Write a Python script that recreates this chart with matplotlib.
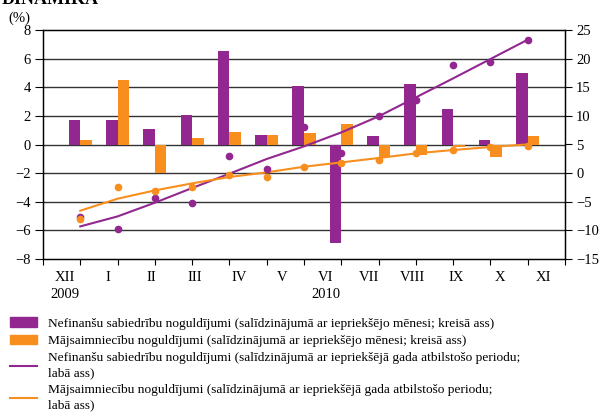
import numpy as np
import matplotlib.pyplot as plt
from matplotlib.patches import Patch
from matplotlib.lines import Line2D

plt.rcParams['font.family'] = ['Liberation Serif', 'DejaVu Serif']

# dati
menesi = ['XII', 'I', 'II', 'III', 'IV', 'V', 'VI', 'VII', 'VIII', 'IX', 'X', 'XI']
gadi = {0: '2009', 6: '2010'}

# salidzinajuma ar ieprieksejo menesi (kreisa ass)
nefin_men = [1.72, 1.72, 1.1, 2.07, 6.54, 0.68, 4.1, -6.9, 0.61, 4.24, 2.49, 0.33, 5.0]
majs_men = [0.33, 4.51, -2.02, 0.47, 0.89, 0.68, 0.82, 1.44, -0.84, -0.72, -0.16, -0.9, 0.61]

# salidzinajuma ar ieprieksejo gadu (laba ass), punkti
nefin_gad = [-7.7, -9.7, -4.35, -5.2, 2.97, 0.64, 8.1, 3.6, 9.9, 12.8, 18.85, 19.4, 23.3]
majs_gad = [-8.1, -2.4, -3.1, -2.4, -0.4, -0.63, 1.1, 1.85, 2.27, 3.55, 4.07, 4.48, 4.72]

# tendences liknes (laba ass)
nefin_trend = [-9.31, -7.56, -5.17, -2.6, -0.1, 2.47, 4.67, 7.11, 9.91, 13.23, 16.55, 19.93, 23.31]
majs_trend = [-6.56, -4.47, -3.02, -1.79, -0.68, 0.13, 1.12, 1.87, 2.64, 3.45, 4.04, 4.56, 5.02]

violets = '#91278F'
oranzs = '#F78E1E'

fig = plt.figure(figsize=(6.01, 4.16), dpi=100)
ax = fig.add_axes([43/601, 1-259/416, (565-43)/601, (259-30)/416])
ax2 = ax.twinx()

x = np.arange(1, len(nefin_men)+1)
w = 0.31
ax.bar(x - w/2, nefin_men, w, color=violets, zorder=3)
ax.bar(x + w/2, majs_men, w, color=oranzs, zorder=3)

ax.set_xlim(0, 14)
ax.set_ylim(-8, 8)
ax.set_yticks(range(-8, 9, 2))
ax.set_yticklabels([str(v).replace('-', '\u2212') for v in range(-8, 9, 2)])
for v in range(-6, 8, 2):
    ax.axhline(v, color='#333333', lw=1, zorder=1)

ax.set_xticks(range(0, 15))
ax.set_xticklabels([])
ax.tick_params(axis='x', length=4, width=0.8, direction='out')
ax.tick_params(axis='y', length=6, width=0.8, labelsize=10.5, pad=3)

ax2.set_ylim(-15, 25)
ax2.set_yticks(range(-15, 26, 5))
ax2.set_yticklabels([str(v).replace('-', '\u2212') for v in range(-15, 26, 5)])
ax2.tick_params(axis='y', length=5, width=0.8, labelsize=10.5, pad=3)

ax2.plot(x, nefin_trend, color=violets, lw=1.5, zorder=4)
ax2.plot(x, majs_trend, color=oranzs, lw=1.5, zorder=4)
ax2.plot(x, nefin_gad, 'o', color=violets, ms=4.5, zorder=5)
ax2.plot(x, majs_gad, 'o', color=oranzs, ms=4.5, zorder=5)

for a in (ax, ax2):
    for s in a.spines.values():
        s.set_linewidth(0.9)

# menesu nosaukumi
for i, m in enumerate(menesi):
    pos = (i + 0.5) * 14 / 12
    ax.text(pos, -0.08, m, transform=ax.get_xaxis_transform(), ha='center', va='center', fontsize=10.5)
    if i in gadi:
        ax.text(pos, -0.155, gadi[i], transform=ax.get_xaxis_transform(), ha='center', va='center', fontsize=10.5)

fig.text(2/601, 1-4/416, 'DINAMIKA', fontsize=13, fontweight='bold', va='baseline', ha='left')
fig.text(8/601, 1-18/416, '(%)', fontsize=10.5, va='center', ha='left')

handles = [Patch(color=violets), Patch(color=oranzs),
           Line2D([], [], color=violets, lw=1.5), Line2D([], [], color=oranzs, lw=1.5)]
labels = ['Nefinanšu sabiedrību noguldījumi (salīdzinājumā ar iepriekšējo mēnesi; kreisā ass)',
          'Mājsaimniecību noguldījumi (salīdzinājumā ar iepriekšējo mēnesi; kreisā ass)',
          'Nefinanšu sabiedrību noguldījumi (salīdzinājumā ar iepriekšējā gada atbilstošo periodu;\nlabā ass)',
          'Mājsaimniecību noguldījumi (salīdzinājumā ar iepriekšējā gada atbilstošo periodu;\nlabā ass)']
leg = fig.legend(handles, labels, loc='upper left', bbox_to_anchor=(10/601, 1-317/416), frameon=False,
                 fontsize=9.6, handlelength=2.05, handleheight=0.75, handletextpad=0.8,
                 labelspacing=0.38, borderpad=0, borderaxespad=0)
for t in leg.get_texts():
    t.set_linespacing(1.35)

fig.savefig('out.png', dpi=100)
